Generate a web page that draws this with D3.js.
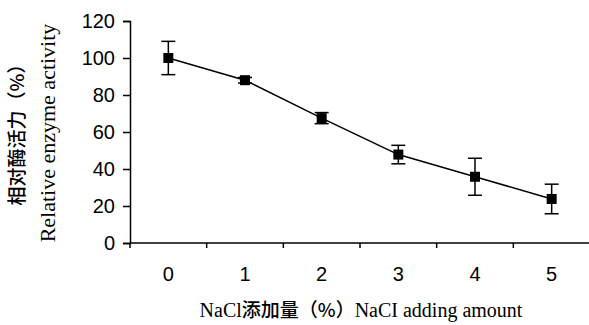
<!DOCTYPE html>
<html>
<head>
<meta charset="utf-8">
<script src="https://cdn.jsdelivr.net/npm/d3@7"></script>
<style>
  body { margin: 0; background: #fff; }
  svg { display: block; }
  .tick text { font-family: "Liberation Sans", Arial, sans-serif; font-size: 20px; fill: #000; }
  .domain, .tick line { stroke: #000; stroke-width: 1.5px; }
</style>
</head>
<body>
<div id="chart"></div>
<script>
const categories = ['0', '1', '2', '3', '4', '5'];
const activity = [100, 88, 67.5, 47.8, 35.8, 23.8];
const errors = [9, 1.5, 3, 5, 10, 8];
const yTicks = [0, 20, 40, 60, 80, 100, 120];

const width = 589, height = 325;
const margin = { top: 21, right: 0, bottom: 82, left: 130 };

const svg = d3.select('#chart').append('svg')
  .attr('width', width)
  .attr('height', height);

const x = d3.scaleBand()
  .domain(categories)
  .range([margin.left, 589 + 1]);

const y = d3.scaleLinear()
  .domain([0, 120])
  .range([height - margin.bottom, margin.top]);

// axes
svg.append('g')
  .attr('transform', `translate(0, ${y(0)})`)
  .call(d3.axisBottom(x).tickSize(0).tickPadding(24))
  .call(g => g.select('.domain').attr('d', `M${margin.left},0H${width}`));

// x tick marks sit between the categories
svg.append('g')
  .selectAll('line')
  .data(categories.concat(['end']))
  .join('line')
  .attr('x1', (d, i) => margin.left + i * x.bandwidth())
  .attr('x2', (d, i) => margin.left + i * x.bandwidth())
  .attr('y1', y(0))
  .attr('y2', y(0) + 5)
  .attr('stroke', '#000')
  .attr('stroke-width', 1.5);

svg.append('g')
  .attr('transform', `translate(${margin.left}, 0)`)
  .call(d3.axisLeft(y).tickValues(yTicks).tickSize(7).tickPadding(8));

const pts = categories.map((c, i) => ({ c, v: activity[i], e: errors[i] }));
const cx = d => x(d.c) + x.bandwidth() / 2;

svg.append('path')
  .datum(pts)
  .attr('fill', 'none')
  .attr('stroke', '#000')
  .attr('stroke-width', 1.5)
  .attr('d', d3.line().x(cx).y(d => y(d.v)));

const bars = svg.append('g').attr('stroke', '#000').attr('stroke-width', 1.5);
bars.selectAll('line.v').data(pts).join('line').attr('class', 'v')
  .attr('x1', cx).attr('x2', cx)
  .attr('y1', d => y(d.v + d.e)).attr('y2', d => y(d.v - d.e));
bars.selectAll('line.top').data(pts).join('line').attr('class', 'top')
  .attr('x1', d => cx(d) - 7).attr('x2', d => cx(d) + 7)
  .attr('y1', d => y(d.v + d.e)).attr('y2', d => y(d.v + d.e));
bars.selectAll('line.bot').data(pts).join('line').attr('class', 'bot')
  .attr('x1', d => cx(d) - 7).attr('x2', d => cx(d) + 7)
  .attr('y1', d => y(d.v - d.e)).attr('y2', d => y(d.v - d.e));

svg.append('g').selectAll('rect').data(pts).join('rect')
  .attr('x', d => cx(d) - 5).attr('y', d => y(d.v) - 5)
  .attr('width', 10).attr('height', 10)
  .attr('fill', '#000');

// axis titles
svg.append('text')
  .attr('x', 361).attr('y', 317)
  .attr('text-anchor', 'middle')
  .attr('font-family', '"Liberation Serif", "Times New Roman", serif')
  .attr('font-size', 20)
  .call(t => {
    t.append('tspan').text('NaCl');
    t.append('tspan').attr('font-family', '"Noto Sans CJK SC", sans-serif').attr('font-weight', 500).attr('font-size', 19).text('添加量（%）');
    t.append('tspan').text('NaCI adding amount');
  });

svg.append('text')
  .attr('transform', 'translate(24, 130) rotate(-90)')
  .attr('text-anchor', 'middle')
  .attr('font-family', '"Noto Sans CJK SC", sans-serif')
  .attr('font-weight', 500)
  .attr('font-size', 19)
  .text('相对酶活力（%）');

svg.append('text')
  .attr('transform', 'translate(55, 133) rotate(-90)')
  .attr('text-anchor', 'middle')
  .attr('font-family', '"Liberation Serif", "Times New Roman", serif')
  .attr('font-size', 22)
  .text('Relative enzyme activity');
</script>
</body>
</html>
